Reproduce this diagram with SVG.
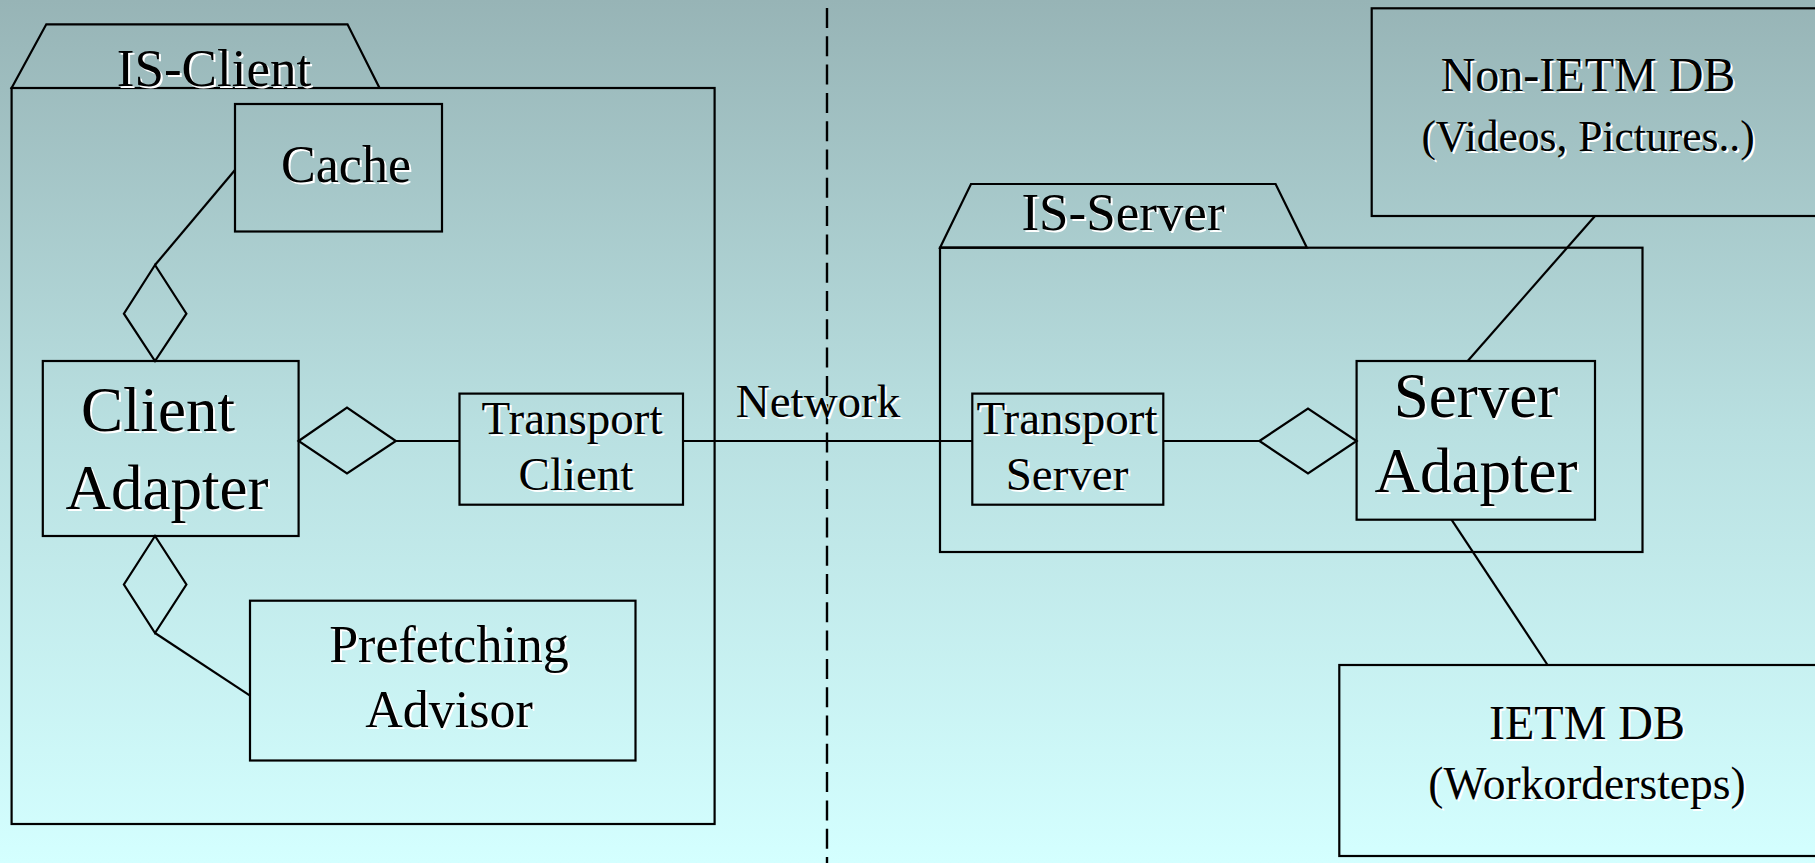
<svg xmlns="http://www.w3.org/2000/svg" width="1815" height="863" viewBox="0 0 1815 863">
<defs>
<linearGradient id="bg" x1="0" y1="0" x2="0" y2="1">
<stop offset="0" stop-color="#97b4b6"/>
<stop offset="0.5" stop-color="#b9e0e1"/>
<stop offset="1" stop-color="#d4ffff"/>
</linearGradient>
</defs>
<style>
.s{fill:none;stroke:#000;stroke-width:2.2}
.t{font-family:"Liberation Serif","Times New Roman",serif;text-anchor:middle;fill:#000}
.sh{fill:#fff}
</style>
<rect width="1815" height="863" fill="url(#bg)"/>
<line x1="827" y1="8" x2="827" y2="863" stroke="#000" stroke-width="2.4" stroke-dasharray="20 8.3"/>

<g id="is-client">
<polygon class="s" points="11.6,88 46.3,24.3 347.5,24.3 379.5,88"/>
<rect class="s" x="11.6" y="88" width="703" height="736"/>
<text class="t sh" x="216" y="88" font-size="53">IS-Client</text>
<text class="t" x="214" y="86" font-size="53">IS-Client</text>
</g>

<g id="cache">
<rect class="s" x="235" y="104" width="207" height="127.5"/>
<text class="t sh" x="348" y="184" font-size="52">Cache</text>
<text class="t" x="346" y="182" font-size="52">Cache</text>
</g>

<g id="client-adapter">
<rect class="s" x="42.8" y="361" width="255.8" height="175"/>
<text class="t sh" x="160" y="433" font-size="63">Client</text>
<text class="t" x="158" y="431" font-size="63">Client</text>
<text class="t sh" x="169" y="511" font-size="63">Adapter</text>
<text class="t" x="167" y="509" font-size="63">Adapter</text>
</g>

<g id="prefetching-advisor">
<rect class="s" x="250" y="600.7" width="385.5" height="159.8"/>
<text class="t sh" x="451" y="664" font-size="52">Prefetching</text>
<text class="t" x="449" y="662" font-size="52">Prefetching</text>
<text class="t sh" x="451" y="729" font-size="52">Advisor</text>
<text class="t" x="449" y="727" font-size="52">Advisor</text>
</g>

<g id="transport-client">
<rect class="s" x="459.5" y="393.6" width="223.5" height="111.1"/>
<text class="t sh" x="574" y="436" font-size="47">Transport</text>
<text class="t" x="572" y="434" font-size="47">Transport</text>
<text class="t sh" x="578" y="491.6" font-size="47">Client</text>
<text class="t" x="576" y="489.6" font-size="47">Client</text>
</g>

<g id="is-server">
<polygon class="s" points="940,247.7 971,184 1275.6,184 1306.9,247.7"/>
<rect class="s" x="940" y="247.7" width="702.5" height="304.3"/>
<text class="t sh" x="1125" y="232" font-size="53">IS-Server</text>
<text class="t" x="1123" y="230" font-size="53">IS-Server</text>
</g>

<g id="transport-server">
<rect class="s" x="972.3" y="393.6" width="191" height="111.1"/>
<text class="t sh" x="1069" y="436" font-size="47">Transport</text>
<text class="t" x="1067" y="434" font-size="47">Transport</text>
<text class="t sh" x="1069" y="491.6" font-size="47">Server</text>
<text class="t" x="1067" y="489.6" font-size="47">Server</text>
</g>

<g id="server-adapter">
<rect class="s" x="1356.6" y="361" width="238.4" height="158.7"/>
<text class="t sh" x="1478" y="418.7" font-size="63">Server</text>
<text class="t" x="1476" y="416.7" font-size="63">Server</text>
<text class="t sh" x="1478" y="494" font-size="63">Adapter</text>
<text class="t" x="1476" y="492" font-size="63">Adapter</text>
</g>

<g id="non-ietm-db">
<rect class="s" x="1371.7" y="8.3" width="460" height="207.7"/>
<text class="t sh" x="1590" y="93.4" font-size="48">Non-IETM DB</text>
<text class="t" x="1588" y="91.4" font-size="48">Non-IETM DB</text>
<text class="t sh" x="1590" y="152.5" font-size="43.5">(Videos, Pictures..)</text>
<text class="t" x="1588" y="150.5" font-size="43.5">(Videos, Pictures..)</text>
</g>

<g id="ietm-db">
<rect class="s" x="1339.3" y="665" width="490" height="191"/>
<text class="t sh" x="1589" y="740.5" font-size="48">IETM DB</text>
<text class="t" x="1587" y="738.5" font-size="48">IETM DB</text>
<text class="t sh" x="1589" y="800.7" font-size="45.5">(Workordersteps)</text>
<text class="t" x="1587" y="798.7" font-size="45.5">(Workordersteps)</text>
</g>

<g id="connectors">
<polyline class="s" points="235,170 155,265"/>
<polygon class="s" points="155,265 123.9,313.7 155,361 186.4,313.7"/>
<polygon class="s" points="155,536 123.9,584.5 155,633 186.4,584.5"/>
<polyline class="s" points="155,633 250,695.6"/>
<polygon class="s" points="298.6,441 347,407.5 395.9,441 347,473.4"/>
<line class="s" x1="395.9" y1="441" x2="459.5" y2="441"/>
<line class="s" x1="683" y1="441" x2="972.3" y2="441"/>
<text class="t sh" x="820" y="418.7" font-size="47">Network</text>
<text class="t" x="818" y="416.7" font-size="47">Network</text>
<line class="s" x1="1163.3" y1="441" x2="1259.4" y2="441"/>
<polygon class="s" points="1259.4,441 1308,408.6 1356.6,441 1308,473.4"/>
<line class="s" x1="1595" y1="216" x2="1467.7" y2="361"/>
<line class="s" x1="1451.5" y1="519.7" x2="1547.6" y2="665"/>
</g>
</svg>
